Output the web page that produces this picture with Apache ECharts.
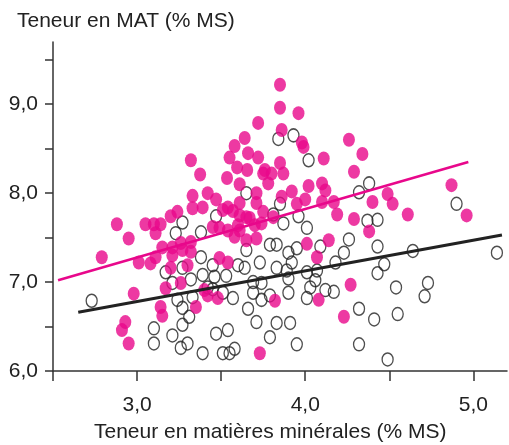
<!DOCTYPE html>
<html>
<head>
<meta charset="utf-8">
<script src="https://cdn.jsdelivr.net/npm/echarts@6/dist/echarts.min.js"></script>
<style>html,body{margin:0;padding:0;background:#fff;}#c{width:509px;height:445px;}</style>
</head>
<body>
<div id="c"></div>
<script>
// Pink (filled) group: [mineral %MS, MAT %MS]
const pinkPoints = [
[3.85,9.22],[3.85,8.96],[3.96,8.90],[3.72,8.79],[3.86,8.71],[3.64,8.62],[3.58,8.53],[3.32,8.37],
[3.55,8.40],[3.66,8.45],[3.72,8.40],[3.375,8.21],[3.595,8.29],[3.655,8.26],[3.535,8.17],[3.75,8.22],
[3.80,8.22],[3.78,8.11],[3.61,8.10],[3.71,8.00],[3.71,7.89],[3.61,7.89],[3.33,7.97],[3.42,8.00],
[3.47,7.93],[3.33,7.83],[3.39,7.84],[3.24,7.79],[3.20,7.74],[3.51,7.81],[3.57,7.80],[3.65,7.73],
[3.75,7.79],[3.81,7.73],[2.88,7.65],[3.05,7.65],[3.10,7.65],[3.14,7.65],[3.98,8.57],[3.99,8.52],
[4.26,8.60],[4.34,8.44],[4.11,8.39],[4.29,8.24],[4.10,8.11],[4.12,8.03],[4.02,8.08],[3.92,8.02],
[4.00,7.93],[3.95,7.88],[4.10,7.90],[4.17,7.90],[4.19,7.76],[4.29,7.71],[4.40,7.90],[4.49,7.99],
[4.52,7.88],[4.61,7.76],[4.87,8.09],[4.96,7.75],[3.85,8.34],[3.87,8.22],[3.86,7.96],[2.95,7.49],
[2.79,7.28],[3.11,7.55],[3.15,7.39],[3.21,7.39],[3.26,7.44],[3.32,7.45],[3.11,7.28],[3.01,7.22],
[3.08,7.21],[3.21,7.30],[3.27,7.36],[3.20,7.16],[3.30,7.19],[3.17,6.93],[3.26,6.99],[2.98,6.87],
[3.14,6.72],[3.15,6.62],[3.35,6.72],[2.93,6.55],[2.91,6.46],[2.95,6.31],[3.42,6.85],[3.48,6.82],
[3.49,7.27],[3.54,7.22],[3.45,7.62],[3.49,7.61],[3.54,7.58],[3.61,7.58],[3.58,7.51],[3.65,7.47],
[3.71,7.49],[3.61,7.75],[3.67,7.72],[3.54,7.84],[3.73,6.20],[3.82,6.79],[4.38,7.57],[4.14,7.47],
[4.01,7.43],[4.07,7.28],[4.27,6.97],[4.08,6.80],[4.23,6.61],[3.70,7.64],[3.32,7.34],[3.40,6.91],
[3.60,7.64],[3.74,7.66],[3.76,8.26]
];
// Black (open) group
const blackPoints = [
[3.84,8.61],[3.93,8.65],[4.02,8.37],[3.65,8.00],[3.85,7.88],[3.47,7.74],[3.27,7.67],[3.81,7.76],
[3.96,7.74],[4.32,8.01],[4.38,8.11],[4.90,7.88],[4.37,7.69],[4.43,7.70],[3.87,7.66],[4.26,7.48],
[4.23,7.33],[4.18,7.22],[4.09,7.40],[4.43,7.40],[4.64,7.35],[4.47,7.20],[4.43,7.10],[5.14,7.33],
[4.17,6.89],[4.54,6.94],[4.73,6.99],[4.71,6.84],[4.32,6.70],[4.41,6.58],[4.55,6.64],[4.32,6.30],
[4.49,6.13],[4.01,7.61],[3.79,7.42],[3.83,7.42],[3.90,7.33],[3.95,7.38],[3.65,7.36],[3.73,7.22],
[3.92,7.22],[3.64,7.16],[3.83,7.16],[3.89,7.13],[4.01,7.11],[4.07,7.13],[3.69,7.00],[3.74,6.99],
[3.90,7.04],[4.06,7.02],[4.03,6.94],[3.69,6.88],[3.74,6.80],[3.79,6.85],[3.90,6.88],[4.01,6.82],
[3.66,6.70],[3.71,6.55],[3.83,6.54],[3.91,6.54],[3.79,6.38],[3.95,6.30],[3.23,7.55],[3.38,7.56],
[3.38,7.28],[3.17,7.11],[3.27,7.16],[3.45,7.19],[3.60,7.19],[3.21,6.99],[3.32,7.03],[3.39,7.08],
[3.46,7.06],[3.53,7.07],[3.42,6.94],[3.45,6.92],[3.51,6.88],[3.33,6.83],[3.57,6.82],[3.24,6.80],
[3.27,6.71],[3.31,6.61],[3.27,6.52],[2.73,6.79],[3.10,6.48],[3.21,6.40],[3.10,6.31],[3.30,6.31],
[3.26,6.26],[3.47,6.42],[3.54,6.46],[3.39,6.20],[3.51,6.20],[3.55,6.20],[3.58,6.25],[4.12,6.91]
];
// Regression lines (end points)
const pinkLine = [[2.53,7.02],[4.97,8.35]];
const blackLine = [[2.65,6.66],[5.17,7.53]];

const xTicks = { min: 2.5, max: 5.2, interval: 0.5 };
const yTicks = { min: 6.0, max: 9.7, interval: 0.5 };
const xTitle = 'Teneur en matières minérales (% MS)';
const yTitle = 'Teneur en MAT (% MS)';

const ellipse = 'path://M50,0 A50,50 0 1,1 50,100 A50,50 0 1,1 50,0 Z';
const PINK = '#E8078B';
const INK = '#222222';
const fmt = v => (Math.abs(v - Math.round(v)) < 1e-6) ? v.toFixed(1).replace('.', ',') : '';
const FONT = 'Liberation Sans, Arial, sans-serif';

const chart = echarts.init(document.getElementById('c'), null, { renderer: 'canvas' });
chart.setOption({
  animation: false,
  backgroundColor: '#fff',
  grid: { left: 53, right: 2, top: 42, bottom: 74, containLabel: false },
  xAxis: {
    type: 'value', min: xTicks.min, max: xTicks.max, interval: xTicks.interval,
    axisLine: { show: true, onZero: false, lineStyle: { color: '#333', width: 1.5 } },
    axisTick: { show: true, inside: false, length: 10, lineStyle: { color: '#333', width: 1.5 } },
    axisLabel: { formatter: fmt, margin: 24, color: INK, fontSize: 21, fontFamily: FONT, showMaxLabel: false },
    splitLine: { show: false }
  },
  yAxis: {
    type: 'value', min: yTicks.min, max: yTicks.max, interval: yTicks.interval,
    axisLine: { show: true, onZero: false, lineStyle: { color: '#333', width: 1.5 } },
    axisTick: { show: true, inside: false, length: 8, lineStyle: { color: '#333', width: 1.5 } },
    axisLabel: { formatter: fmt, margin: 15, color: INK, fontSize: 21, fontFamily: FONT, showMaxLabel: false },
    splitLine: { show: false }
  },
  graphic: [
    { type: 'text', left: 17, top: 11, style: { text: yTitle, fill: INK, font: '21px ' + FONT } },
    { type: 'text', left: 94, top: 422, style: { text: xTitle, fill: INK, font: '21px ' + FONT } }
  ],
  series: [
    { type: 'scatter', data: blackPoints, symbol: ellipse, symbolSize: [11, 13],
      itemStyle: { color: 'rgba(255,255,255,0)', borderColor: INK, borderWidth: 1.4 }, z: 2 },
    { type: 'scatter', data: pinkPoints, symbol: ellipse, symbolSize: [12, 14],
      itemStyle: { color: PINK, borderWidth: 0 }, z: 3 },
    { type: 'line', data: pinkLine, showSymbol: false, symbol: 'none',
      lineStyle: { color: PINK, width: 2.5 }, z: 4 },
    { type: 'line', data: blackLine, showSymbol: false, symbol: 'none',
      lineStyle: { color: INK, width: 3 }, z: 4 }
  ]
});
</script>
</body>
</html>
